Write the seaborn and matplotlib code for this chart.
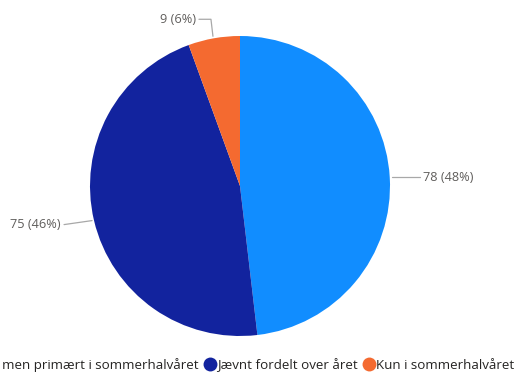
import numpy as np
import matplotlib
matplotlib.use("Agg")
import matplotlib.pyplot as plt
from matplotlib.lines import Line2D
import seaborn as sns

categories = ["Hele året, men primært i sommerhalvåret",
              "Jævnt fordelt over året",
              "Kun i sommerhalvåret"]
values = [78, 75, 9]
colors = ["#118DFF", "#12239E", "#F46A30"]

sns.set_theme(style="white")
plt.rcParams["font.family"] = ["Open Sans", "DejaVu Sans"]

W, H = 518, 372
fig = plt.figure(figsize=(W / 100, H / 100), dpi=100)
ax = fig.add_axes([0, 0, 1, 1])

cx, cy, r = 240, 186, 150
wedges, _ = ax.pie(values, colors=colors, startangle=90, counterclock=False,
                   center=(cx, cy), radius=r, frame=True,
                   wedgeprops=dict(linewidth=0))
ax.set_xlim(0, W)
ax.set_ylim(0, H)
ax.set_aspect("equal")
ax.axis("off")

total = sum(values)
grey = "#605E5C"
line_c = "#A8A8A8"
fs = 9.2
for w, v in zip(wedges, values):
    mid = np.deg2rad((w.theta1 + w.theta2) / 2)
    px, py = cx + r * np.cos(mid), cy + r * np.sin(mid)
    label = f"{v} ({v / total * 100:.0f}%)"
    if np.cos(mid) > 0.5:
        # right side: straight horizontal leader
        ex, ey = px + 30, py
        ax.plot([px + 2, ex], [py, ey], color=line_c, lw=0.9)
        ax.text(ex + 3, ey, label, ha="left", va="center", fontsize=fs, color=grey)
    elif np.cos(mid) < -0.5:
        ex, ey = px - 30, py - 4
        ax.plot([px - 2, ex], [py, ey], color=line_c, lw=0.9)
        ax.text(ex - 3, ey, label, ha="right", va="center", fontsize=fs, color=grey)
    else:
        # top: elbow leader going up then left
        ex, ey = px - 3, py + 19
        ax.plot([px - 1, ex, ex - 12], [py + 2, ey, ey], color=line_c, lw=0.9)
        ax.text(ex - 15, ey, label, ha="right", va="center", fontsize=fs, color=grey)

handles = [Line2D([], [], marker="o", linestyle="", markersize=10,
                  markerfacecolor=c, markeredgewidth=0) for c in colors]
fig.legend(handles, categories, loc="center right", bbox_to_anchor=(514 / W, 7 / H),
           ncol=3, frameon=False, fontsize=9.6, handletextpad=0.05,
           columnspacing=0.4, handlelength=0.9, labelcolor="#252423",
           borderaxespad=0, borderpad=0)

fig.savefig("out.png", dpi=100)
